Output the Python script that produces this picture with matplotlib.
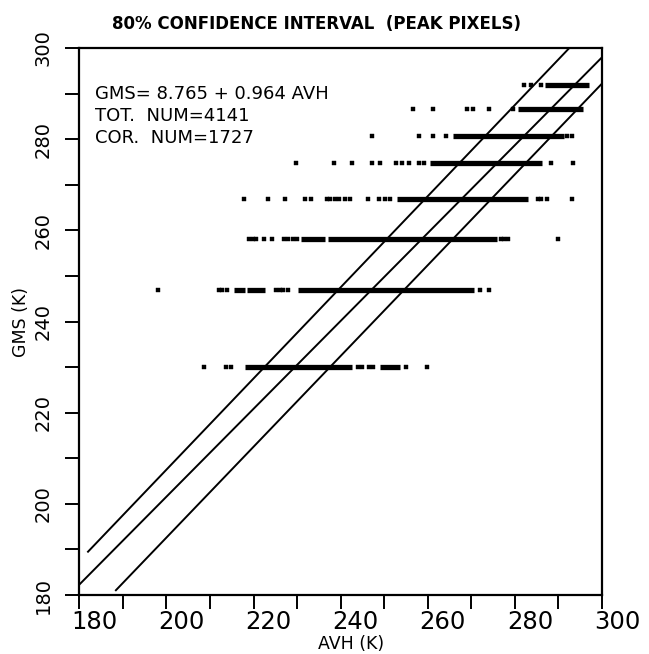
import numpy as np
import matplotlib.pyplot as plt
from matplotlib.transforms import ScaledTranslation

# GMS levels (K) of the peak-pixel rows, top to bottom
gms_levels = [291.8, 286.7, 280.6, 274.7, 266.8, 258.2, 247.0, 230.0]

# AVH (K) stretches where pixels overlap into a solid bar
avh_runs = [
    [(287.0, 296.9)],
    [(280.8, 295.7)],
    [(265.7, 291.3)],
    [(260.6, 286.3)],
    [(253.0, 282.9)],
    [(231.0, 236.5), (237.2, 275.8)],
    [(215.6, 218.0), (218.6, 222.7), (230.3, 270.7)],
    [(218.1, 242.7), (249.1, 253.7)],
]

# AVH (K) of the isolated pixels in each row
avh_dots = [
    [282.2, 283.8, 285.9],
    [256.7, 261.3, 268.9, 270.3, 274.0, 279.5],
    [247.2, 257.9, 261.3, 264.1, 292.0, 293.2],
    [229.7, 238.4, 242.6, 247.2, 249.1, 252.6, 254.0, 255.6, 257.9, 259.2,
     288.2, 293.3],
    [217.9, 223.4, 227.2, 231.7, 233.2, 236.9, 237.6, 238.6, 239.7, 240.9,
     242.2, 246.3, 248.9, 250.1, 251.4, 285.2, 286.1, 287.3, 293.2],
    [219.0, 219.9, 220.6, 222.3, 224.3, 227.1, 228.0, 229.1, 230.0,
     276.7, 277.6, 278.5, 289.8],
    [198.1, 212.1, 212.8, 213.8, 225.2, 226.1, 226.8, 228.0, 272.1, 274.0],
    [208.7, 213.7, 214.9, 243.9, 245.0, 246.4, 247.5, 255.1, 259.9],
]

# regression GMS = a + b*AVH
fit_a = 8.765
fit_b = 0.964
# 80% band edges as (intercept, slope)
band_upper = (7.5, 1.0)
band_lower = (-6.6, 0.996)
# AVH where each of upper / fit / lower starts
line_x_start = [182.0, 180.0, 188.4]
line_x_end = 300.0

total_num = 4141
cor_num = 1727

x_major = np.arange(180, 301, 20)
x_minor = np.arange(190, 300, 20)
y_major = np.arange(180, 301, 20)
y_minor = np.arange(190, 300, 20)

fig = plt.figure(figsize=(6.49, 6.54), dpi=100)
ax = fig.add_axes([0.1222, 0.0902, 0.8054, 0.8364])

# scan-line rows
for lev, runs, dots in zip(gms_levels, avh_runs, avh_dots):
    for x0, x1 in runs:
        ax.plot([x0, x1], [lev, lev], color='black', lw=3.8,
                solid_capstyle='butt')
    ax.plot(dots, [lev] * len(dots), ls='', marker='s', ms=3.4,
            mfc='black', mec='black', mew=0.3)

# fit line and confidence band
coefs = [band_upper, (fit_a, fit_b), band_lower]
for (a, b), xs in zip(coefs, line_x_start):
    xx = np.array([xs, line_x_end])
    ax.plot(xx, a + b * xx, color='black', lw=1.4)

ax.set_xlim(180, 300)
ax.set_ylim(180, 300)

for s in ax.spines.values():
    s.set_linewidth(1.6)

ax.set_xticks(x_major)
ax.set_xticks(x_minor, minor=True)
ax.set_yticks(y_major)
ax.set_yticks(y_minor, minor=True)
ax.tick_params(which='both', direction='out', length=10, width=1.4)
ax.tick_params(axis='x', labelsize=17.5, pad=1)
ax.tick_params(axis='y', labelsize=14, pad=9)
ax.set_yticklabels([str(v) for v in y_major], rotation=90, va='center')

# plotter put the x labels a little right of their ticks
shift = ScaledTranslation(15 / 100, 0, fig.dpi_scale_trans)
for lab in ax.get_xticklabels():
    lab.set_transform(lab.get_transform() + shift)

ax.set_xlabel('AVH (K)', fontsize=12.5, va='center')
ax.xaxis.set_label_coords(0.52, -0.09)
ax.set_ylabel('GMS (K)', fontsize=12.5, va='center')
ax.yaxis.set_label_coords(-0.112, 0.5)

fig.text(0.487, 0.963, '80% CONFIDENCE INTERVAL  (PEAK PIXELS)',
         ha='center', va='center', fontsize=12, fontweight='bold')

ax.text(0.03, 0.915, f'GMS= {fit_a} + {fit_b} AVH', transform=ax.transAxes,
        fontsize=13, va='center')
ax.text(0.03, 0.875, f'TOT.  NUM={total_num}', transform=ax.transAxes,
        fontsize=13, va='center')
ax.text(0.03, 0.835, f'COR.  NUM={cor_num}', transform=ax.transAxes,
        fontsize=13, va='center')

fig.savefig('out.png', dpi=100)
